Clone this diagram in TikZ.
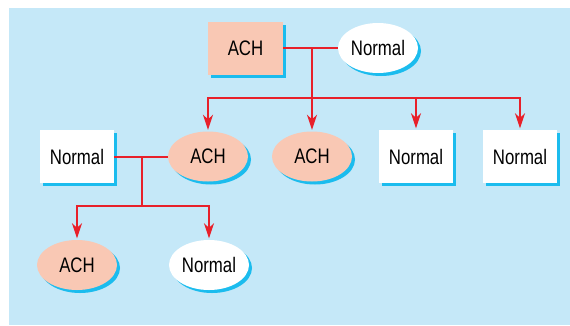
\documentclass[tikz,border=0pt]{standalone}
\usepackage{fontspec}
\setmainfont[FakeStretch=0.8]{Liberation Sans}
\usetikzlibrary{shapes.geometric,shadows,arrows.meta}
\definecolor{bgblue}{HTML}{C5E8F8}
\definecolor{salmon}{HTML}{F9C8B4}
\definecolor{shcyan}{HTML}{1BBCEE}
\definecolor{lnred}{HTML}{E8202A}
\begin{document}
\begin{tikzpicture}[x=1pt,y=-1pt,
  base/.style={inner sep=0pt, font=\fontsize{21}{25}\selectfont,
    drop shadow={shadow xshift=3pt, shadow yshift=-3pt, fill=shcyan, opacity=1}},
  rbox/.style={base, rectangle, minimum width=74pt, minimum height=53pt},
  ebox/.style={base, ellipse, minimum width=80pt, minimum height=50pt},
  ach/.style={fill=salmon},
  nrm/.style={fill=white},
  conn/.style={draw=lnred, line width=2pt},
  arr/.style={conn, shorten >=1.5pt, -{Stealth[length=15pt,width=10pt,inset=4.5pt]}}
]
\useasboundingbox (0,0) rectangle (570,325);
\fill[bgblue] (9,8) rectangle (570,325);
% level 1
\node[rbox,ach,minimum width=75pt] (a1) at (245.5,48) {ACH};
\node[ebox,nrm] (n1) at (378,48) {Normal};
% level 2
\node[rbox,nrm] (n2) at (77,156.5) {Normal};
\node[ebox,ach] (a2) at (208,156.5) {ACH};
\node[ebox,ach] (a3) at (312,156.5) {ACH};
\node[rbox,nrm] (n3) at (416,156.5) {Normal};
\node[rbox,nrm] (n4) at (520,156.5) {Normal};
% level 3
\node[ebox,ach] (a4) at (77,265) {ACH};
\node[ebox,nrm] (n5) at (209,265) {Normal};
% connectors level 1
\coordinate (h1) at (312,98);
\draw[conn] (a1.east) -- (n1.west);
\draw[conn] (a1.east -| h1) -- (h1);
\draw[arr] (h1) -| (a2.north);
\draw[arr] (h1) -- (a3.north);
\draw[arr] (h1) -| (n3.north);
\draw[arr] (h1) -| (n4.north);
% connectors level 2
\coordinate (h2) at (142,206);
\draw[conn] (n2.east) -- (a2.west);
\draw[conn] (n2.east -| h2) -- (h2);
\draw[arr] (h2) -| (a4.north);
\draw[arr] (h2) -| (n5.north);
\end{tikzpicture}
\end{document}
